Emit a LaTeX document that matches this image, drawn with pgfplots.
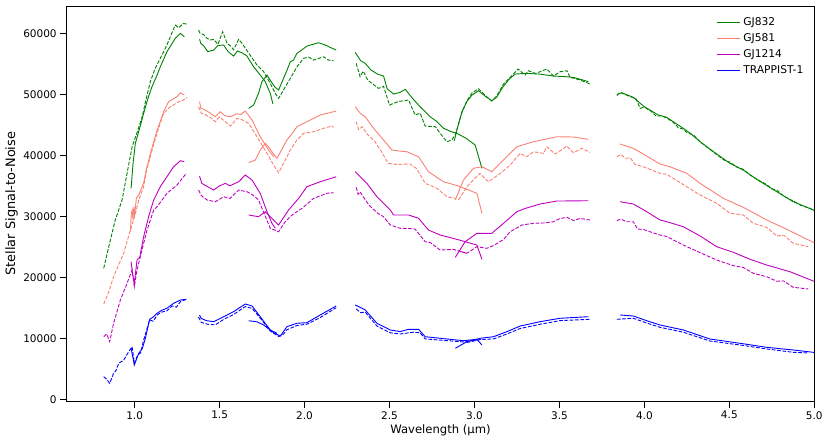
\documentclass[border=0pt]{standalone}
\usepackage{fontspec}
\setmainfont{DejaVu Sans}
\usepackage{pgfplots}
\pgfplotsset{compat=1.18}
\definecolor{c832}{RGB}{0,128,0}
\definecolor{c581}{RGB}{250,128,114}
\definecolor{c1214}{RGB}{191,0,191}
\definecolor{ctr}{RGB}{0,0,255}
\pgfplotsset{
  sl/.style={color=#1, line width=0.9pt, forget plot, mark=none},
  dl/.style={color=#1, line width=0.9pt, forget plot, mark=none, dash pattern=on 3.7pt off 1.6pt},
}
\begin{document}
\begin{tikzpicture}
\begin{axis}[
  scale only axis, width=747.6pt, height=395.3pt,
  at={(0,0)}, anchor=south west,
  xmin=0.6, xmax=5.0, ymin=-330, ymax=64475,
  xtick={1.0,1.5,2.0,2.5,3.0,3.5,4.0,4.5,5.0},
  ytick={0,10000,20000,30000,40000,50000,60000},
  scaled y ticks=false,
  xticklabel style={/pgf/number format/.cd, fixed, fixed zerofill, precision=1},
  yticklabel style={/pgf/number format/.cd, fixed, 1000 sep={}},
  /pgf/number format/assume math mode=true,
  tick align=outside, tick pos=left, major tick length=6.5pt,
  every tick/.style={black, line width=0.8pt},
  tick label style={font=\fontsize{10.5}{12}\selectfont},
  axis line style={line width=0.8pt},
  xlabel={Wavelength (µm)}, ylabel={Stellar Signal-to-Noise},
  every axis x label/.style={at={(axis description cs:0.5,-0.0726)}, anchor=center, font=\fontsize{11.6}{13}\selectfont},
  every axis y label/.style={at={(axis description cs:-0.0736,0.5)}, anchor=center, rotate=90, font=\fontsize{12.9}{14}\selectfont},
  legend style={at={(rel axis cs:1,1)}, anchor=north east, xshift=-5pt, yshift=-7.5pt,
    draw=none, fill=none, font=\fontsize{10.7}{12}\selectfont, row sep=2.5pt,
    nodes={inner xsep=2.8pt}, cells={anchor=west}},
  legend image code/.code={\draw[#1] (0pt,0pt) -- (23pt,0pt);},
]
\addlegendimage{c832, line width=0.9pt}\addlegendentry{GJ832}
\addlegendimage{c581, line width=0.9pt}\addlegendentry{GJ581}
\addlegendimage{c1214, line width=0.9pt}\addlegendentry{GJ1214}
\addlegendimage{ctr, line width=0.9pt}\addlegendentry{TRAPPIST-1}

% ---------------- GJ832 ----------------
\addplot[dl=c832] coordinates {(0.818,21470) (0.850,25300) (0.886,29400) (0.926,32670) (0.955,37000) (0.985,41400) (1.015,43800) (1.044,46320) (1.070,49500) (1.092,52060) (1.120,54200) (1.151,55890) (1.190,58070) (1.215,59800) (1.239,61350) (1.260,60900) (1.285,61600) (1.308,61510)};
\addplot[sl=c832] coordinates {(0.979,34580) (0.990,38500) (1.004,41960) (1.030,44500) (1.053,46880) (1.080,49500) (1.102,51240) (1.130,53000) (1.151,54510) (1.190,56970) (1.239,59170) (1.269,59990) (1.292,59430)};
\addplot[sl=c832] coordinates {(1.382,59000) (1.390,58300) (1.405,58000) (1.430,57000) (1.465,57250) (1.490,58000) (1.524,58070) (1.550,57000) (1.582,56270) (1.605,57100) (1.632,56800) (1.660,56300) (1.700,54510) (1.739,53150) (1.769,52060) (1.798,50150) (1.814,48400)};
\addplot[dl=c832] coordinates {(1.376,60530) (1.385,60000) (1.405,59800) (1.425,59200) (1.445,58900) (1.465,59000) (1.490,58200) (1.518,60250) (1.544,58350) (1.565,57900) (1.582,57300) (1.612,59000) (1.632,58350) (1.660,57200) (1.690,56000) (1.720,54790) (1.759,53700) (1.798,51790) (1.828,50150) (1.847,49330) (1.876,50700) (1.916,52610) (1.955,54510) (1.994,55890) (2.025,56100) (2.053,55610) (2.112,56150) (2.141,55610) (2.171,55500)};
\addplot[sl=c832] coordinates {(1.671,47690) (1.700,48230) (1.729,50150) (1.749,52060) (1.779,53150) (1.800,52200) (1.825,51200) (1.847,50700) (1.870,52200) (1.896,53900) (1.916,55330) (1.935,55600) (1.955,56710) (1.985,57300) (2.014,57910) (2.050,58200) (2.082,58450) (2.120,58100) (2.150,57700) (2.186,57250)};
\addplot[sl=c832] coordinates {(2.298,56870) (2.330,55500) (2.357,55070) (2.390,54000) (2.430,53300) (2.465,52990) (2.486,50900) (2.524,50040) (2.560,50300) (2.593,50810) (2.630,49500) (2.680,47960) (2.739,46320) (2.780,45500) (2.818,44420) (2.860,43900) (2.896,43600) (2.950,42800) (3.004,41680) (3.044,37860)};
\addplot[dl=c832] coordinates {(2.304,55070) (2.327,52880) (2.345,53800) (2.372,52300) (2.396,51800) (2.435,50970) (2.465,51300) (2.500,48240) (2.550,48800) (2.612,49060) (2.651,46600) (2.680,46900) (2.710,44790) (2.770,44680) (2.798,43600) (2.838,42220) (2.865,42500) (2.887,43320)};
\addplot[sl=c832] coordinates {(2.880,42300) (2.900,44500) (2.926,47140) (2.955,48800) (2.985,49870) (3.024,50580) (3.063,49700) (3.102,48940) (3.130,49500) (3.171,51350) (3.205,52500) (3.240,53320) (3.308,53430) (3.386,53300) (3.465,52990) (3.530,52900) (3.582,52770) (3.630,52400) (3.671,52060)};
\addplot[dl=c832] coordinates {(2.887,43320) (2.926,47000) (2.955,48900) (2.985,50200) (3.024,50900) (3.063,49800) (3.102,48900) (3.130,49700) (3.171,51700) (3.225,53200) (3.256,54140) (3.298,53150) (3.318,53860) (3.357,53430) (3.386,53700) (3.426,54140) (3.465,52990) (3.504,53700) (3.544,53860) (3.563,52770) (3.622,52340) (3.680,51680)};
\addplot[sl=c832] coordinates {(3.838,49990) (3.867,50250) (3.935,49500) (3.994,48070) (4.040,47300) (4.082,46600) (4.132,46220) (4.180,45300) (4.229,44420) (4.270,43600) (4.328,42220) (4.426,40200) (4.504,38680) (4.582,37580) (4.661,36060) (4.779,34030) (4.876,32390) (4.994,31030) (5.0,30950)};
\addplot[dl=c832] coordinates {(3.838,49800) (3.857,50300) (3.877,50100) (3.916,49600) (3.950,49300) (3.975,47700) (4.000,47900) (4.040,47200) (4.070,46400) (4.100,46500) (4.132,46100) (4.170,45400) (4.200,44500) (4.229,44300) (4.250,43700) (4.290,43300) (4.328,42200) (4.426,40100) (4.480,39000) (4.504,38900) (4.540,38100) (4.582,37700) (4.620,36800) (4.661,36100) (4.720,35200) (4.750,34500) (4.779,34300) (4.820,33300) (4.876,32500) (4.920,31800) (4.965,31400) (5.0,31000)};

% ---------------- GJ581 ----------------
\addplot[dl=c581] coordinates {(0.818,15620) (0.850,17800) (0.876,20090) (0.935,23930) (0.975,27750) (1.000,30000) (1.024,32670) (1.053,34850) (1.070,37500) (1.092,39760) (1.112,41800) (1.132,43600) (1.150,45200) (1.171,46880) (1.210,47960) (1.259,48780) (1.283,49000) (1.308,49500)};
\addplot[sl=c581] coordinates {(0.975,27500) (0.980,30500) (0.985,31030) (0.990,29390) (0.995,31500) (1.000,30200) (1.010,33000) (1.024,33500) (1.053,35500) (1.070,37800) (1.092,40200) (1.112,42200) (1.132,44100) (1.150,45500) (1.171,47200) (1.200,48780) (1.230,49300) (1.249,49600) (1.269,50250) (1.292,49880)};
\addplot[sl=c581] coordinates {(1.382,48780) (1.390,47690) (1.410,47500) (1.440,47000) (1.475,46320) (1.504,47140) (1.530,46500) (1.563,46320) (1.600,46800) (1.625,46700) (1.651,47250) (1.691,45780) (1.739,43040) (1.788,40860) (1.818,39760)};
\addplot[dl=c581] coordinates {(1.376,47960) (1.392,46900) (1.420,46600) (1.445,46200) (1.475,45500) (1.500,46300) (1.544,45230) (1.565,44800) (1.602,46060) (1.635,45800) (1.671,45230) (1.720,43040) (1.779,40320) (1.818,38400) (1.847,37140) (1.886,39220) (1.916,40860) (1.955,42500) (1.994,43600) (2.053,43860) (2.112,44420) (2.161,44790) (2.171,44600)};
\addplot[sl=c581] coordinates {(1.671,38780) (1.710,39220) (1.739,40860) (1.769,41960) (1.790,41300) (1.815,40300) (1.838,39500) (1.865,40900) (1.896,42500) (1.935,43860) (1.955,44680) (2.014,45500) (2.092,46600) (2.186,47250)};
\addplot[sl=c581] coordinates {(2.298,47960) (2.330,46800) (2.357,46320) (2.406,44420) (2.465,42500) (2.514,40860) (2.560,40700) (2.602,40580) (2.671,39760) (2.729,37300) (2.818,35660) (2.906,34960) (3.014,33760) (3.044,30490)};
\addplot[dl=c581] coordinates {(2.304,45500) (2.318,44200) (2.327,44400) (2.340,44700) (2.370,43400) (2.410,42400) (2.453,40580) (2.492,38680) (2.540,38500) (2.622,38570) (2.660,37800) (2.710,35400) (2.779,34580) (2.838,33210) (2.887,32940)};
\addplot[sl=c581] coordinates {(2.887,32670) (2.935,35940) (2.994,37860) (3.044,38130) (3.102,37300) (3.171,39220) (3.249,41400) (3.347,42220) (3.485,43040) (3.580,43000) (3.671,42610)};
\addplot[dl=c581] coordinates {(2.906,32700) (2.960,35000) (3.032,37040) (3.082,35660) (3.150,37000) (3.210,38400) (3.269,40320) (3.308,39760) (3.347,40580) (3.406,40320) (3.426,41400) (3.475,40200) (3.544,41520) (3.582,40420) (3.632,41140) (3.680,40480)};
\addplot[sl=c581] coordinates {(3.857,41840) (3.935,41140) (3.994,40200) (4.092,38570) (4.151,38120) (4.249,37040) (4.328,35400) (4.465,32940) (4.582,31470) (4.720,29390) (4.838,27860) (4.994,25730) (5.0,25650)};
\addplot[dl=c581] coordinates {(3.838,39760) (3.860,40150) (3.890,39500) (3.916,39600) (3.945,38500) (3.994,38120) (4.040,37600) (4.092,37040) (4.130,36900) (4.249,34850) (4.328,33490) (4.426,32120) (4.504,30490) (4.582,30210) (4.641,28850) (4.720,28190) (4.779,26770) (4.820,26900) (4.876,25570) (4.965,25010)};

% ---------------- GJ1214 ----------------
\addplot[dl=c1214] coordinates {(0.818,10260) (0.835,10700) (0.853,9440) (0.876,12460) (0.916,16280) (0.955,19010) (0.985,21190) (0.998,18450) (1.014,21190) (1.043,24500) (1.073,27750) (1.112,31030) (1.132,31570) (1.190,33760) (1.249,35120) (1.304,37040)};
\addplot[sl=c1214] coordinates {(0.979,22550) (0.988,20500) (0.998,19010) (1.014,22830) (1.030,23300) (1.053,26650) (1.082,29930) (1.112,32670) (1.122,33210) (1.151,34850) (1.190,36480) (1.229,38120) (1.269,39110) (1.292,38940)};
\addplot[sl=c1214] coordinates {(1.382,36600) (1.395,35400) (1.420,35000) (1.465,34300) (1.500,35000) (1.534,35400) (1.560,35000) (1.612,35660) (1.651,36760) (1.691,35940) (1.739,33760) (1.779,30750) (1.808,28850) (1.828,28030)};
\addplot[dl=c1214] coordinates {(1.376,34300) (1.392,33400) (1.426,32670) (1.475,32390) (1.524,33210) (1.560,32900) (1.612,34300) (1.661,34030) (1.695,33500) (1.729,32670) (1.798,28030) (1.847,27470) (1.886,29110) (1.926,30210) (1.985,31300) (2.053,32940) (2.131,33760) (2.171,33860)};
\addplot[sl=c1214] coordinates {(1.671,30210) (1.729,29930) (1.769,30750) (1.847,28570) (1.906,31030) (1.965,32940) (2.014,34850) (2.092,35660) (2.186,36480)};
\addplot[sl=c1214] coordinates {(2.298,37300) (2.367,35400) (2.426,33210) (2.504,31030) (2.524,30210) (2.612,30210) (2.671,29670) (2.729,27750) (2.798,26930) (2.896,26220) (3.014,25290) (3.044,22950)};
\addplot[dl=c1214] coordinates {(2.304,34750) (2.315,33600) (2.327,34000) (2.340,33400) (2.380,31800) (2.430,30500) (2.465,29930) (2.504,28570) (2.563,28030) (2.612,28000) (2.650,27900) (2.710,25830) (2.740,25700) (2.798,24470) (2.876,24580) (2.955,23930)};
\addplot[sl=c1214] coordinates {(2.887,23270) (2.945,25830) (3.014,27210) (3.102,27210) (3.171,28850) (3.249,30750) (3.300,31300) (3.386,32010) (3.485,32500) (3.671,32550)};
\addplot[dl=c1214] coordinates {(2.920,24200) (2.955,23930) (3.014,25010) (3.073,24750) (3.112,25200) (3.171,26200) (3.210,27470) (3.279,28570) (3.347,28850) (3.406,28900) (3.465,29110) (3.500,29600) (3.544,29830) (3.583,29300) (3.622,29650) (3.680,29390)};
\addplot[sl=c1214] coordinates {(3.857,32390) (3.935,32010) (4.014,30750) (4.092,29390) (4.132,29110) (4.229,28290) (4.328,26770) (4.426,25010) (4.524,24090) (4.622,22950) (4.720,22010) (4.857,20910) (4.994,19390) (5.0,19350)};
\addplot[dl=c1214] coordinates {(3.838,29270) (3.860,29550) (3.897,29100) (3.935,29110) (3.960,27900) (3.994,27860) (4.050,27300) (4.092,26930) (4.130,26700) (4.229,25290) (4.328,24030) (4.426,22830) (4.524,21900) (4.582,21600) (4.641,20650) (4.720,20090) (4.779,19350) (4.820,19400) (4.876,18360) (4.965,18080)};

% ---------------- TRAPPIST-1 ----------------
\addplot[dl=ctr] coordinates {(0.818,3700) (0.835,3300) (0.853,2620) (0.876,4260) (0.890,4700) (0.906,5900) (0.935,6400) (0.965,7800) (0.985,8620) (0.998,5900) (1.018,7260) (1.035,7600) (1.053,9720) (1.070,11300) (1.088,13000) (1.110,12800) (1.132,13820) (1.160,14300) (1.190,14500) (1.220,15290) (1.245,15100) (1.269,16000) (1.304,16390)};
\addplot[sl=ctr] coordinates {(0.979,8360) (0.998,5620) (1.024,7540) (1.045,8300) (1.063,10000) (1.088,13100) (1.110,13500) (1.132,14100) (1.160,14600) (1.190,14920) (1.229,15730) (1.269,16280) (1.304,16390)};
\addplot[sl=ctr] coordinates {(1.382,13820) (1.390,13300) (1.420,12900) (1.465,12720) (1.524,13540) (1.582,14360) (1.651,15620) (1.691,15290) (1.739,13540) (1.798,11360) (1.837,10820)};
\addplot[dl=ctr] coordinates {(1.376,13500) (1.392,12600) (1.430,12300) (1.475,12200) (1.524,13100) (1.582,13900) (1.651,15200) (1.691,14900) (1.739,13300) (1.798,11200) (1.847,10300) (1.870,10500) (1.896,11400) (1.955,12100) (2.014,12300) (2.092,13400) (2.186,15000)};
\addplot[sl=ctr] coordinates {(1.671,12880) (1.720,12700) (1.759,12180) (1.818,10920) (1.857,10370) (1.896,11900) (1.955,12460) (2.014,12560) (2.092,13820) (2.186,15290)};
\addplot[sl=ctr] coordinates {(2.298,15460) (2.357,14640) (2.426,12460) (2.504,11360) (2.563,11100) (2.612,11470) (2.671,11470) (2.710,10260) (2.798,10000) (2.935,9600) (3.014,9830) (3.044,8900)};
\addplot[dl=ctr] coordinates {(2.304,14800) (2.330,14200) (2.357,14300) (2.426,12000) (2.504,10900) (2.563,10700) (2.641,11000) (2.680,10900) (2.710,9900) (2.798,9700) (2.935,9400) (3.014,9700)};
\addplot[sl=ctr] coordinates {(2.887,8360) (2.955,9440) (3.034,10000) (3.112,10260) (3.190,11080) (3.269,12010) (3.386,12720) (3.504,13280) (3.671,13540)};
\addplot[dl=ctr] coordinates {(2.955,9300) (3.034,9800) (3.112,9900) (3.190,10700) (3.269,11600) (3.386,12300) (3.504,12900) (3.680,13110)};
\addplot[sl=ctr] coordinates {(3.857,13820) (3.935,13650) (4.014,12880) (4.092,12180) (4.229,11360) (4.386,9880) (4.563,9180) (4.720,8520) (4.876,8080) (4.994,7700) (5.0,7700)};
\addplot[dl=ctr] coordinates {(3.838,13110) (3.935,13280) (4.014,12500) (4.092,11800) (4.229,11000) (4.386,9550) (4.563,8900) (4.720,8250) (4.876,7700) (4.965,7600)};
\end{axis}
\pgfresetboundingbox
\path[use as bounding box] (-66.7pt,-41.7pt) rectangle (763.3pt,401.3pt);
\end{tikzpicture}
\end{document}
